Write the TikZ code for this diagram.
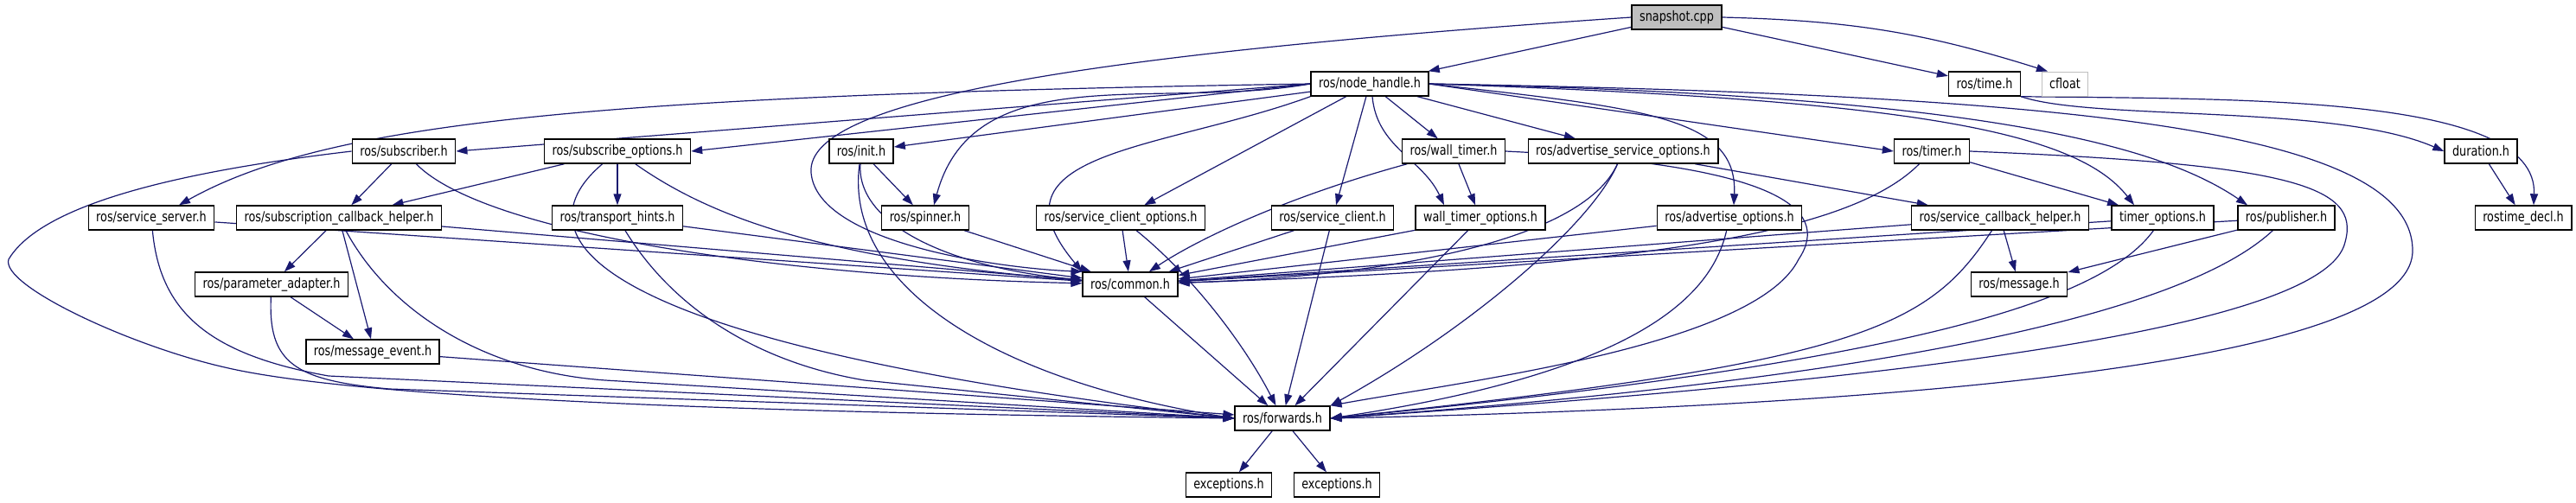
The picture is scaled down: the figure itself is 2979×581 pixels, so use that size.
\documentclass[tikz,border=0pt]{standalone}
\usepackage{fontspec}
\setmainfont{DejaVu Sans}[FakeStretch=0.8]
\usetikzlibrary{arrows.meta,backgrounds}
\definecolor{edgeblue}{HTML}{191970}
\definecolor{boxgray}{HTML}{BFBFBF}
\tikzset{
  header/.style={draw=black, line width=1.4pt, fill=white, minimum height=28pt,
    inner xsep=9pt, inner ysep=0pt, font=\fontsize{16}{19}\selectfont},
  mainfile/.style={header, fill=boxgray},
  sysheader/.style={header, draw=boxgray, line width=1pt},
  inc/.style={draw=edgeblue, line width=1.2pt, -{Triangle[length=13pt,width=9pt]}}
}

\begin{document}
\begin{tikzpicture}[x=1pt,y=-1pt]
  \useasboundingbox (0,0) rectangle (2979,581);
  \node[mainfile] (snap) at (1939,20) {snapshot.cpp};
  \node[header] (nh) at (1584,97) {ros/node\_handle.h};
  \node[header] (time) at (2295,97) {ros/time.h};
  \node[sysheader] (cfloat) at (2388,97) {cfloat};
  \node[header] (sub) at (467,175) {ros/subscriber.h};
  \node[header] (subopt) at (714,175) {ros/subscribe\_options.h};
  \node[header] (init) at (996,175) {ros/init.h};
  \node[header] (wt) at (1681,175) {ros/wall\_timer.h};
  \node[header] (aso) at (1877,175) {ros/advertise\_service\_options.h};
  \node[header] (timer) at (2234,175) {ros/timer.h};
  \node[header] (dur) at (2869,175) {duration.h};
  \node[header] (ss) at (175,252) {ros/service\_server.h};
  \node[header] (scbh) at (392,252) {ros/subscription\_callback\_helper.h};
  \node[header] (th) at (714,252) {ros/transport\_hints.h};
  \node[header] (spin) at (1070,252) {ros/spinner.h};
  \node[header] (sco) at (1296,252) {ros/service\_client\_options.h};
  \node[header] (sc) at (1541,252) {ros/service\_client.h};
  \node[header] (wto) at (1712,252) {wall\_timer\_options.h};
  \node[header] (ao) at (2000,252) {ros/advertise\_options.h};
  \node[header] (svcb) at (2313,252) {ros/service\_callback\_helper.h};
  \node[header] (tmo) at (2501,252) {timer\_options.h};
  \node[header] (pub) at (2644,252) {ros/publisher.h};
  \node[header] (decl) at (2918,252) {rostime\_decl.h};
  \node[header] (pa) at (314,329) {ros/parameter\_adapter.h};
  \node[header] (common) at (1307,329) {ros/common.h};
  \node[header] (msg) at (2335,329) {ros/message.h};
  \node[header] (me) at (431,407) {ros/message\_event.h};
  \node[header] (fwd) at (1483,484) {ros/forwards.h};
  \node[header] (exc1) at (1421,561) {exceptions.h};
  \node[header] (exc2) at (1546,561) {exceptions.h};

  \begin{scope}[on background layer]
  \draw[inc] (snap) -- (nh);
  \draw[inc] (snap.west) .. controls (1300,60) and (930,110) .. (938,200) .. controls (945,280) and (1150,310) .. (common.north west);
  \draw[inc] (snap) -- (time);
  \draw[inc] (snap.east) to[bend left=8] ([xshift=-20pt]cfloat.north);

  \draw[inc] (nh.west) .. controls (700,110) and (380,140) .. ([xshift=32pt]ss.north);
  \draw[inc] (nh.west) -- (sub.east);
  \draw[inc] (nh.west) -- (subopt.east);
  \draw[inc] (nh) -- (init);
  \draw[inc] (nh.west) to[out=190,in=75] ([xshift=10pt]spin.north);
  \draw[inc] (nh.south west) to[out=200,in=130,looseness=1.4] (common.north west);
  \draw[inc] (nh) -- (sco);
  \draw[inc] (nh) -- (sc);
  \draw[inc] (nh) -- (wt);
  \draw[inc] ([xshift=3pt]nh.south) to[out=-85,in=115] ([xshift=-42pt]wto.north);
  \draw[inc] (nh) -- (aso);
  \draw[inc] (nh.east) .. controls (1900,125) and (2010,135) .. ([xshift=5pt]ao.north);
  \draw[inc] (nh.east) -- (timer.west);
  \draw[inc] (nh.east) .. controls (2200,115) and (2400,150) .. ([xshift=-33pt]tmo.north);
  \draw[inc] (nh.east) .. controls (2300,110) and (2500,170) .. ([xshift=-45pt]pub.north);
  \draw[inc] (nh.east) .. controls (2400,110) and (2790,150) .. (2790,290) .. controls (2790,420) and (2200,470) .. (fwd.east);

  \draw[inc] (time.south east) .. controls (2420,140) and (2700,120) .. (dur.west);
  \draw[inc] (time.south east) .. controls (2600,115) and (2935,110) .. ([xshift=12pt]decl.north);
  \draw[inc] (dur) -- (decl);

  \draw[inc] (sub) -- (scbh);
  \draw[inc] (sub) .. controls (560,270) and (900,320) .. (common);
  \draw[inc] (sub.west) .. controls (150,205) and (40,250) .. (10,300) .. controls (0,330) and (150,400) .. (260,425) .. controls (450,470) and (1100,480) .. (fwd.west);
  \draw[inc] (subopt) -- (scbh);
  \draw[inc] (subopt) -- (th);
  \draw[inc] (subopt) .. controls (820,250) and (950,300) .. (common);
  \draw[inc] (subopt) .. controls (590,280) and (700,400) .. (fwd.west);
  \draw[inc] (init) -- (spin);
  \draw[inc] (init) .. controls (990,260) and (1100,310) .. (common);
  \draw[inc] (init) .. controls (975,330) and (1150,440) .. (fwd.west);
  \draw[inc] (wt) .. controls (1480,230) and (1380,280) .. (common);
  \draw[inc] (wt) -- (wto);
  \draw[inc] (wt.east) .. controls (2050,190) and (2120,240) .. (2080,300) .. controls (2030,400) and (1700,440) .. (fwd.north east);
  \draw[inc] (aso) .. controls (1830,280) and (1600,320) .. (common);
  \draw[inc] (aso) .. controls (1840,260) and (1700,380) .. (fwd.north east);
  \draw[inc] (aso) -- (svcb);
  \draw[inc] (timer) .. controls (2140,270) and (1900,310) .. (common);
  \draw[inc] (timer) -- (tmo);
  \draw[inc] (timer.east) .. controls (2650,190) and (2730,215) .. (2712,280) .. controls (2690,380) and (2200,440) .. (fwd.east);

  \draw[inc] (ss) -- (common);
  \draw[inc] (ss) .. controls (185,360) and (240,410) .. (380,435) -- (fwd.west);
  \draw[inc] (scbh) -- (pa);
  \draw[inc] (scbh) -- ([xshift=-2pt]me.north);
  \draw[inc] (scbh) -- (common);
  \draw[inc] (scbh) .. controls (450,360) and (560,430) .. (700,440) -- (fwd.west);
  \draw[inc] (th) -- (common);
  \draw[inc] (th) .. controls (780,360) and (880,420) .. (1000,440) -- (fwd.west);
  \draw[inc] (spin) -- (common);
  \draw[inc] (sco) -- (common);
  \draw[inc] (sco) .. controls (1380,320) and (1440,400) .. (fwd);
  \draw[inc] (sc) -- (common);
  \draw[inc] (sc) -- (fwd);
  \draw[inc] (wto) -- (common);
  \draw[inc] (wto) -- (fwd);
  \draw[inc] (ao) -- (common);
  \draw[inc] (ao) .. controls (1980,340) and (1900,430) .. (fwd.east);
  \draw[inc] (svcb) -- (common);
  \draw[inc] (svcb) -- (msg);
  \draw[inc] (svcb) .. controls (2230,380) and (2150,420) .. (fwd.east);
  \draw[inc] (tmo) -- (common);
  \draw[inc] (tmo) .. controls (2430,350) and (2200,420) .. (fwd.east);
  \draw[inc] (pub) -- (common);
  \draw[inc] (pub) -- (msg);
  \draw[inc] (pub) .. controls (2550,340) and (2300,430) .. (fwd.east);

  \draw[inc] (pa) -- (me);
  \draw[inc] (pa) .. controls (310,420) and (340,440) .. (450,450) -- (fwd.west);
  \draw[inc] (me) -- (fwd);
  \draw[inc] (common) -- (fwd);
  \draw[inc] (fwd) -- (exc1);
  \draw[inc] (fwd) -- (exc2);
  \end{scope}
\end{tikzpicture}
\end{document}
